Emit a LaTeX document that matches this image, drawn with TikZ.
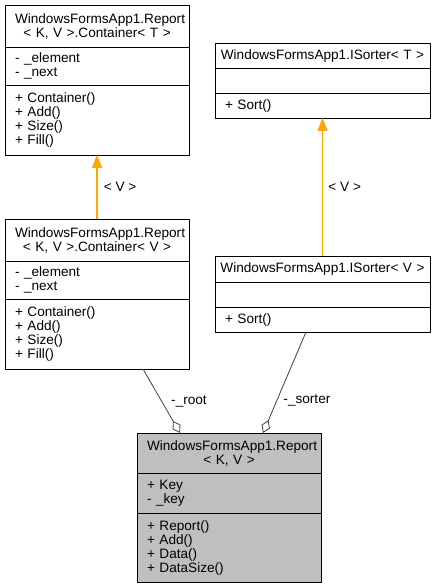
\documentclass[tikz,border=0pt]{standalone}
\usepackage{fontspec}
\setmainfont{Liberation Sans}
\usetikzlibrary{
  arrows.meta,
  positioning
}
\definecolor{genorange}{HTML}{FFA500}
\definecolor{assocgray}{HTML}{404040}
\definecolor{classgray}{HTML}{BFBFBF}
\tikzset{
  every node/.style={font=\fontsize{13.6pt}{14pt}\selectfont, text=black},
  class part/.style={
    draw, line width=0.8pt, anchor=north, outer sep=0pt,
    inner xsep=10pt, inner ysep=0pt,
    align=left, minimum height=#1
  },
  class head/.style={
    class part=#1, align=center
  },
  narrow box/.style={text width=164pt},
  wide box/.style={text width=195pt},
  wide head/.style={text width=211pt, inner xsep=2pt},
  current class/.style={fill=classgray},
  generalization/.style={
    draw=genorange, line width=1.2pt,
    -{Triangle[length=13pt,width=10pt,color=genorange]}
  },
  aggregation/.style={
    draw=assocgray, line width=0.8pt,
    -{Diamond[open,length=14pt,width=9pt]}
  }
}

\begin{document}
\begin{tikzpicture}[x=1pt,y=1pt]
\useasboundingbox (0,0) rectangle (437,-588);
% Report< K, V >.Container< T >
\node[class head=42pt, narrow box, anchor=north west] (ct-head) at (5,-5)
  {WindowsFormsApp1.Report\\< K, V >.Container< T >};
\node[class part=38pt, narrow box, below=0pt of ct-head] (ct-attr)
  {- \_element\\- \_next};
\node[class part=70pt, narrow box, below=0pt of ct-attr] (ct-meth)
  {+ Container()\\+ Add()\\+ Size()\\+ Fill()};
% Report< K, V >.Container< V >
\node[class head=42pt, narrow box, below=64pt of ct-meth] (cv-head)
  {WindowsFormsApp1.Report\\< K, V >.Container< V >};
\node[class part=38pt, narrow box, below=0pt of cv-head] (cv-attr)
  {- \_element\\- \_next};
\node[class part=70pt, narrow box, below=0pt of cv-attr] (cv-meth)
  {+ Container()\\+ Add()\\+ Size()\\+ Fill()};
% ISorter< T >
\node[class head=25pt, wide head, anchor=north west] (st-head) at (215,-43)
  {WindowsFormsApp1.ISorter< T >};
\node[class part=25pt, wide box, below=0pt of st-head] (st-attr) {};
\node[class part=25pt, wide box, below=0pt of st-attr] (st-meth) {+ Sort()};
% ISorter< V >
\node[class head=26pt, wide head, below=138pt of st-meth] (sv-head)
  {WindowsFormsApp1.ISorter< V >};
\node[class part=25pt, wide box, below=0pt of sv-head] (sv-attr) {};
\node[class part=25pt, wide box, below=0pt of sv-attr] (sv-meth) {+ Sort()};
% Report< K, V >
\node[class head=40pt, narrow box, current class, anchor=north west] (rep-head) at (137,-433)
  {WindowsFormsApp1.Report\\< K, V >};
\node[class part=40pt, narrow box, current class, below=0pt of rep-head] (rep-attr)
  {+ Key\\- \_key};
\node[class part=69pt, narrow box, current class, below=0pt of rep-attr] (rep-meth)
  {+ Report()\\+ Add()\\+ Data()\\+ DataSize()};

\draw[generalization] (cv-head.north) -- node[right=3pt] (cv-lbl) {< V >} (ct-meth.south);
\draw[generalization] (sv-head.north) -- node[right=2pt] (sv-lbl) {< V >} (st-meth.south);
\draw[aggregation] ([xshift=138pt]cv-meth.south west)
  -- node[pos=.5, right=6pt] (root-lbl) {-\_root} ([xshift=43pt]rep-head.north west);
\draw[aggregation] ([xshift=91pt]sv-meth.south west)
  -- node[pos=.68, right=3pt] (sorter-lbl) {-\_sorter} ([xshift=126pt]rep-head.north west);
\end{tikzpicture}
\end{document}
